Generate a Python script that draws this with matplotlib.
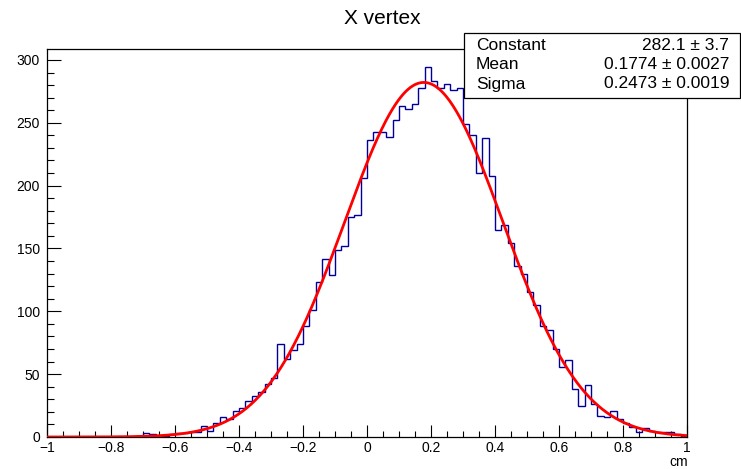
import numpy as np
import matplotlib
matplotlib.use("Agg")
import matplotlib.pyplot as plt
from matplotlib.patches import Rectangle
from matplotlib.ticker import MultipleLocator, FixedLocator

plt.rcParams['font.family'] = ['Liberation Sans', 'DejaVu Sans']

# ---- data ----
x_min, x_max, n_bins = -1.0, 1.0, 100
counts = [
    0, 0, 0, 0, 0, 0, 0, 0, 0, 0,
    0, 0, 0, 0, 0, 3, 2, 1, 1, 2,
    3, 3, 4, 4, 9, 5, 11, 16, 14, 21,
    23, 29, 33, 36, 42, 47, 74, 62, 69, 74,
    88, 101, 123, 142, 129, 149, 152, 175, 177, 206,
    236, 243, 243, 239, 252, 263, 261, 265, 278, 294,
    283, 278, 281, 276, 278, 249, 240, 210, 238, 208,
    165, 169, 154, 136, 130, 115, 105, 88, 85, 70,
    56, 61, 38, 25, 41, 26, 17, 16, 21, 14,
    11, 8, 4, 7, 5, 4, 4, 4, 2, 1,
]
fit_constant, fit_constant_err = 282.1, 3.7
fit_mean, fit_mean_err = 0.1774, 0.0027
fit_sigma, fit_sigma_err = 0.2473, 0.0019

title = "X vertex"
x_label = "cm"
x_tick_values = [-1, -0.8, -0.6, -0.4, -0.2, 0, 0.2, 0.4, 0.6, 0.8, 1]
x_tick_labels = ["\u22121", "\u22120.8", "\u22120.6", "\u22120.4", "\u22120.2",
                 "0", "0.2", "0.4", "0.6", "0.8", "1"]
y_tick_values = [0, 50, 100, 150, 200, 250, 300]
stat_names = ["Constant", "Mean", "Sigma"]
stat_values = [f"{fit_constant:.1f} \u00b1 {fit_constant_err:.1f}",
               f"{fit_mean:.4f} \u00b1 {fit_mean_err:.4f}",
               f"{fit_sigma:.4f} \u00b1 {fit_sigma_err:.4f}"]

# ---- figure ----
W, H = 741, 469
fig = plt.figure(figsize=(W / 100, H / 100), dpi=100)
fig.patch.set_facecolor("white")

def fx(px):
    return px / W

def fy(py):
    return 1 - py / H

ax = fig.add_axes([fx(47), fy(437), fx(687) - fx(47), fy(49) - fy(437)])

edges = np.linspace(x_min, x_max, n_bins + 1)
ax.stairs(counts, edges, color="#000099", lw=1.0, zorder=2)

xs = np.linspace(x_min, x_max, 600)
ys = fit_constant * np.exp(-0.5 * ((xs - fit_mean) / fit_sigma) ** 2)
ax.plot(xs, ys, color="#ff0000", lw=2.0, zorder=3)

ax.set_xlim(x_min, x_max)
ax.set_ylim(0, max(counts) * 1.05)

for s in ax.spines.values():
    s.set_linewidth(0.9)
    s.set_color("black")

ax.xaxis.set_major_locator(FixedLocator(x_tick_values))
ax.set_xticklabels(x_tick_labels)
ax.xaxis.set_minor_locator(MultipleLocator(0.05))
ax.yaxis.set_major_locator(FixedLocator(y_tick_values))
ax.yaxis.set_minor_locator(MultipleLocator(10))
ax.tick_params(axis="x", which="major", direction="in", length=8.5, width=0.8,
               labelsize=10, pad=3, top=False)
ax.tick_params(axis="x", which="minor", direction="in", length=4.2, width=0.8, top=False)
ax.tick_params(axis="y", which="major", direction="in", length=10, width=0.8,
               labelsize=10, pad=5, right=False)
ax.tick_params(axis="y", which="minor", direction="in", length=5, width=0.8, right=False)

fig.text(fx(688), fy(462), x_label, ha="right", va="center", fontsize=10)
fig.text(fx(382), fy(19), title, ha="center", va="center", fontsize=15)

# stat box
box = Rectangle((fx(464), fy(98)), fx(740) - fx(464), fy(33) - fy(98),
                transform=fig.transFigure, facecolor="white", edgecolor="black",
                lw=0.9, zorder=10)
fig.add_artist(box)
row_y = [45, 64.5, 84]
for name, val, ry in zip(stat_names, stat_values, row_y):
    fig.text(fx(476), fy(ry), name, ha="left", va="center", fontsize=12.5, zorder=11)
    fig.text(fx(729), fy(ry), val, ha="right", va="center", fontsize=12.5, zorder=11)

fig.savefig("out.png", dpi=100)
